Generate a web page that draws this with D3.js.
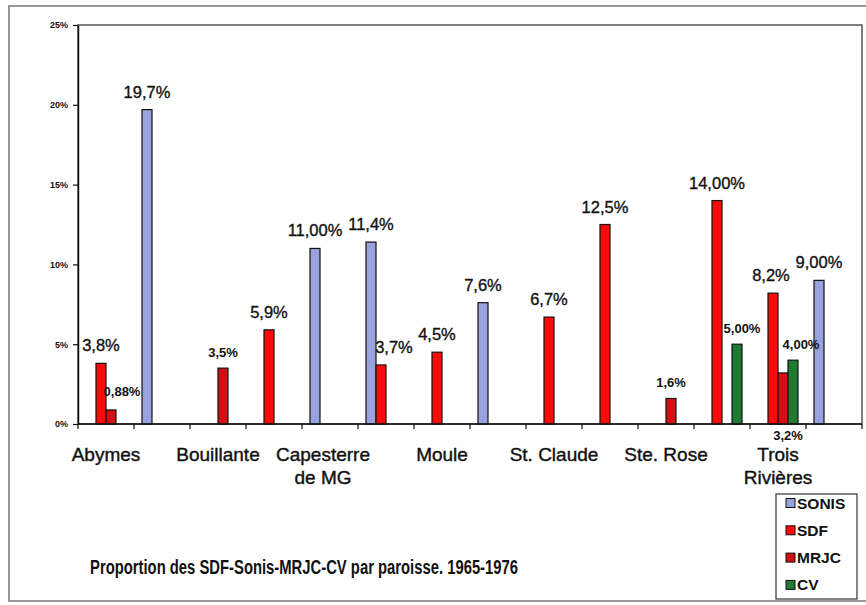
<!DOCTYPE html>
<html>
<head>
<meta charset="utf-8">
<script src="https://cdn.jsdelivr.net/npm/d3@7"></script>
<style>
  html, body { margin: 0; padding: 0; background: #fff; }
  svg { display: block; font-family: "Liberation Sans", Arial, sans-serif; }
</style>
</head>
<body>
<svg id="chart" width="866" height="605"></svg>
<script>
// ---- data ----
const slots = ["s1","s2","s3","s4","s5","s6","s7","s8","s9","s10","s11","s12","s13","s14"];
const slotLabels = [["Abymes"], [], ["Bouillante"], [], ["Capesterre", "de MG"], [], ["Moule"], [], ["St. Claude"], [], ["Ste. Rose"], [], ["Trois", "Rivières"], []];
const seriesNames = ["SONIS", "SDF", "MRJC", "CV"];
const sonis = [null, 19.7, null, null, 11.0, 11.4, null, 7.6, null, null, null, null, null, 9.0];
const sdf   = [3.8, null, null, 5.9, null, 3.7, 4.5, null, 6.7, 12.5, null, 14.0, 8.2, null];
const mrjc  = [0.88, null, 3.5, null, null, null, null, null, null, null, 1.6, null, 3.2, null];
const cv    = [null, null, null, null, null, null, null, null, null, null, null, 5.0, 4.0, null];
const sonisText = [null, "19,7%", null, null, "11,00%", "11,4%", null, "7,6%", null, null, null, null, null, "9,00%"];
const sdfText   = ["3,8%", null, null, "5,9%", null, "3,7%", "4,5%", null, "6,7%", "12,5%", null, "14,00%", "8,2%", null];
const mrjcText  = ["0,88%", null, "3,5%", null, null, null, null, null, null, null, "1,6%", null, "3,2%", null];
const cvText    = [null, null, null, null, null, null, null, null, null, null, null, "5,00%", "4,00%", null];
const yTicks = [0, 5, 10, 15, 20, 25];
const yTickLabels = ["0%", "5%", "10%", "15%", "20%", "25%"];
const title = "Proportion des SDF-Sonis-MRJC-CV par paroisse. 1965-1976";

// ---- styling ----
const colors = { SONIS: "#97a3dc", SDF: "#ff0a0a", MRJC: "#d30f14", CV: "#1f7a32" };
const seriesValues = { SONIS: sonis, SDF: sdf, MRJC: mrjc, CV: cv };
const seriesText = { SONIS: sonisText, SDF: sdfText, MRJC: mrjcText, CV: cvText };
const smallLabelSeries = new Set(["MRJC", "CV"]);
// manual label nudges (as in the original chart): key = series|slotIndex
const nudges = {
  "MRJC|0": [11, -3],
  "SDF|5": [13, 0],
  "CV|11": [5, 0],
  "CV|12": [8, 0],
  "SDF|12": [-2, 0],
  "MRJC|12": [5, "below"]
};

const svg = d3.select("#chart");
const plot = { left: 78, top: 25, right: 862, bottom: 424 };

// outer chart border
svg.append("rect").attr("x", 9).attr("y", 6).attr("width", 870).attr("height", 595)
  .attr("fill", "#fff").attr("stroke", "#777").attr("stroke-width", 1.5);

const x0 = d3.scaleBand().domain(slots).range([plot.left, plot.right]).paddingInner(0).paddingOuter(0);
const x1 = d3.scaleBand().domain(seriesNames).range([0, x0.bandwidth()]).paddingInner(0).paddingOuter(0.8);
const y = d3.scaleLinear().domain([0, 25]).range([plot.bottom, plot.top]);

// plot area border
svg.append("rect").attr("x", plot.left).attr("y", plot.top)
  .attr("width", plot.right - plot.left).attr("height", plot.bottom - plot.top)
  .attr("fill", "none").attr("stroke", "#555").attr("stroke-width", 1.5);

// bars
const barData = [];
seriesNames.forEach(s => {
  seriesValues[s].forEach((v, i) => {
    if (v != null) barData.push({ s, i, v, t: seriesText[s][i] });
  });
});

svg.append("g").selectAll("rect").data(barData).join("rect")
  .attr("x", d => x0(slots[d.i]) + x1(d.s))
  .attr("y", d => y(d.v))
  .attr("width", x1.bandwidth())
  .attr("height", d => y(0) - y(d.v))
  .attr("fill", d => colors[d.s])
  .attr("stroke", "#111").attr("stroke-width", 1.2);

// data labels
svg.append("g").selectAll("text").data(barData).join("text")
  .attr("x", d => {
    const n = nudges[d.s + "|" + d.i];
    return x0(slots[d.i]) + x1(d.s) + x1.bandwidth() / 2 + (n ? n[0] : 0);
  })
  .attr("y", d => {
    const n = nudges[d.s + "|" + d.i];
    if (n && n[1] === "below") return y(0) + 16;
    const small = smallLabelSeries.has(d.s);
    return y(d.v) - (small ? 11 : 12) + (n ? n[1] : 0);
  })
  .attr("text-anchor", "middle")
  .attr("font-size", d => smallLabelSeries.has(d.s) ? 13 : 16.5)
  .attr("font-weight", d => smallLabelSeries.has(d.s) ? "bold" : "normal")
  .attr("fill", "#111")
  .attr("stroke", d => smallLabelSeries.has(d.s) ? "none" : "#111")
  .attr("stroke-width", 0.35)
  .text(d => d.t);

// y axis
const yAxis = d3.axisLeft(y).tickValues(yTicks).tickFormat((d, i) => yTickLabels[i])
  .tickSize(5).tickSizeOuter(0).tickPadding(5);
const gy = svg.append("g").attr("transform", `translate(${plot.left},0)`).call(yAxis);
gy.select(".domain").attr("stroke", "#111").attr("stroke-width", 1.5);
gy.selectAll(".tick line").attr("stroke", "#111").attr("stroke-width", 1.2);
gy.selectAll(".tick text").attr("font-size", 9).attr("font-weight", "bold")
  .attr("fill", "#111").attr("font-family", "Liberation Sans, Arial, sans-serif");

// x axis: line + ticks at category boundaries
const gx = svg.append("g");
gx.append("line").attr("x1", plot.left).attr("x2", plot.right)
  .attr("y1", y(0)).attr("y2", y(0)).attr("stroke", "#111").attr("stroke-width", 1.5);
const boundaries = d3.range(slots.length + 1).map(k => plot.left + k * x0.step());
gx.selectAll("line.tick").data(boundaries).join("line").attr("class", "tick")
  .attr("x1", d => d).attr("x2", d => d)
  .attr("y1", y(0)).attr("y2", y(0) + 5)
  .attr("stroke", "#111").attr("stroke-width", 1.2);

// category labels
const labelNudgeX = { 4: -7 };
slotLabels.forEach((lines, i) => {
  if (!lines.length) return;
  const cx = x0(slots[i]) + x0.bandwidth() / 2 + (labelNudgeX[i] || 0);
  const t = svg.append("text").attr("text-anchor", "middle")
    .attr("font-size", 19).attr("fill", "#111")
    .attr("stroke", "#111").attr("stroke-width", 0.4);
  lines.forEach((ln, k) => {
    t.append("tspan").attr("x", cx).attr("y", 461 + k * 23).text(ln);
  });
});

// legend
const lg = svg.append("g");
lg.append("rect").attr("x", 776).attr("y", 494).attr("width", 81).attr("height", 105)
  .attr("fill", "#fff").attr("stroke", "#333").attr("stroke-width", 1.2);
seriesNames.forEach((s, k) => {
  const cy = 503 + k * 27.3;
  lg.append("rect").attr("x", 786).attr("y", cy - 4.5).attr("width", 9).attr("height", 9)
    .attr("fill", colors[s]).attr("stroke", "#111").attr("stroke-width", 1);
  lg.append("text").attr("x", 797).attr("y", cy + 5.5)
    .attr("font-size", 15.5).attr("font-weight", "bold").attr("fill", "#111").text(s);
});

// title
svg.append("text").attr("x", 90).attr("y", 574)
  .attr("font-size", 19.5).attr("font-weight", "bold").attr("fill", "#111")
  .attr("textLength", 428).attr("lengthAdjust", "spacingAndGlyphs")
  .text(title);
</script>
</body>
</html>
